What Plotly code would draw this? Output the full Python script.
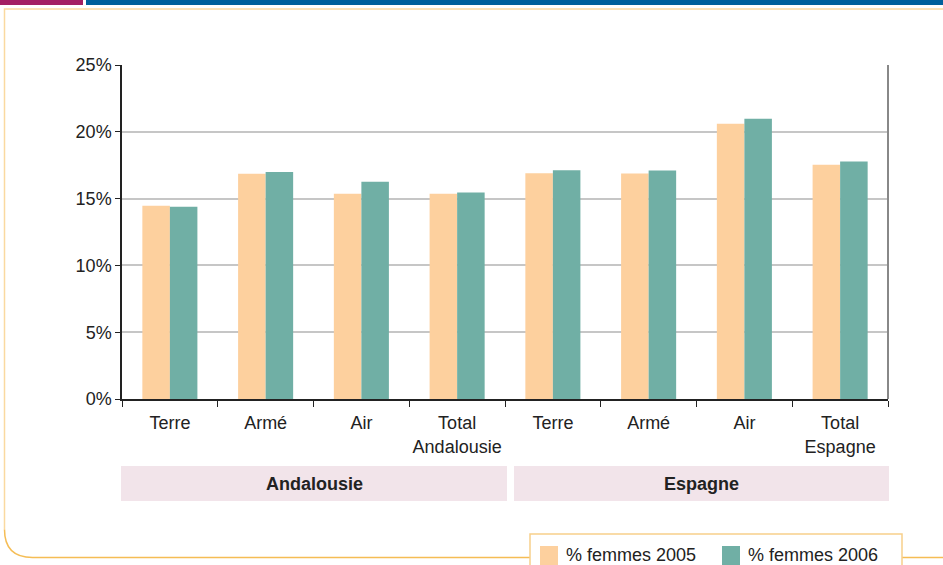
import plotly.graph_objects as go

# ---- data ----
cat_ids = ["A_Terre", "A_Arme", "A_Air", "A_Total", "E_Terre", "E_Arme", "E_Air", "E_Total"]
cat_labels = ["Terre", "Armé", "Air", "Total<br>Andalousie", "Terre", "Armé", "Air", "Total<br>Espagne"]
femmes_2005 = [14.47, 16.86, 15.37, 15.37, 16.90, 16.87, 20.60, 17.54]
femmes_2006 = [14.39, 17.00, 16.27, 15.45, 17.12, 17.10, 20.98, 17.77]
groups = ["Andalousie", "Espagne"]
y_ticks = [0, 5, 10, 15, 20, 25]
y_labels = ["0%", "5%", "10%", "15%", "20%", "25%"]
series_names = ["% femmes 2005", "% femmes 2006"]

C2005 = "#fdd09e"
C2006 = "#70afa5"

W, H = 943, 565
L, R, T, B = 122, 888, 65, 399


def px(x):
    return (x - L) / (R - L)


def py(y):
    return (B - y) / (B - T)


fig = go.Figure()
fig.add_trace(go.Bar(x=cat_ids, y=femmes_2005, name=series_names[0], marker_color=C2005,
                     marker_line_width=0, showlegend=False))
fig.add_trace(go.Bar(x=cat_ids, y=femmes_2006, name=series_names[1], marker_color=C2006,
                     marker_line_width=0, showlegend=False))

font = "Liberation Sans, Arial, sans-serif"
FS = 18

fig.update_layout(
    width=W, height=H,
    margin=dict(l=L, r=W - R, t=T, b=H - B, autoexpand=False),
    paper_bgcolor="white", plot_bgcolor="white",
    barmode="group", bargap=0.425, bargroupgap=0,
    font=dict(family=font, size=FS, color="#222222"),
    xaxis=dict(type="category", tickmode="array", tickvals=cat_ids, ticktext=cat_labels,
               tickson="boundaries", ticks="outside", ticklen=6, tickcolor="#222", tickangle=0,
               ticklabelstandoff=7,
               showline=True, linecolor="#222", linewidth=1.5, showgrid=False,
               tickfont=dict(size=FS, color="#222"), range=[-0.5, 7.5]),
    yaxis=dict(range=[0, 25], tickmode="array", tickvals=y_ticks, ticktext=y_labels,
               ticks="outside", ticklen=5,
               tickcolor="#222", showline=True, linecolor="#222", linewidth=1.5,
               showgrid=True, gridcolor="#c6c6c6", gridwidth=2, zeroline=False,
               tickfont=dict(size=FS, color="#222")),
)

shapes = []
# right axis line
shapes.append(dict(type="line", xref="paper", yref="paper", x0=1, x1=1, y0=0, y1=1,
                   line=dict(color="#888888", width=2)))
# top decoration bars
shapes.append(dict(type="rect", xref="paper", yref="paper", x0=px(0), x1=px(83), y0=py(0), y1=py(5),
                   fillcolor="#a31f63", line_width=0, layer="above"))
shapes.append(dict(type="rect", xref="paper", yref="paper", x0=px(86), x1=px(943), y0=py(0), y1=py(5),
                   fillcolor="#00609c", line_width=0, layer="above"))
# outer frame
fx, fy0, fyb, rad = 4.5, 9, 557.5, 28
path_top = (f"M {px(943)},{py(fy0)} L {px(fx)},{py(fy0)} L {px(fx)},{py(fyb - rad)}")
shapes.append(dict(type="path", xref="paper", yref="paper", path=path_top,
                   line=dict(color="#fad9a0", width=1.5)))
path_bot = (f"M {px(fx)},{py(fyb - rad)} Q {px(fx)},{py(fyb)} {px(fx + rad)},{py(fyb)} "
            f"L {px(530)},{py(fyb)}")
shapes.append(dict(type="path", xref="paper", yref="paper", path=path_bot,
                   line=dict(color="#f5bd55", width=1.5)))
shapes.append(dict(type="line", xref="paper", yref="paper", x0=px(902), x1=px(943), y0=py(fyb), y1=py(fyb),
                   line=dict(color="#f5bd55", width=1.5)))
# group bands
band_px = [(121, 507), (514, 889)]
annotations = []
for g, (a, b) in zip(groups, band_px):
    shapes.append(dict(type="rect", xref="paper", yref="paper", x0=px(a), x1=px(b), y0=py(466), y1=py(501),
                       fillcolor="#f2e4ea", line_width=0))
    annotations.append(dict(xref="paper", yref="paper", x=(px(a) + px(b)) / 2, y=py(484),
                            text=f"<b>{g}</b>", showarrow=False, xanchor="center", yanchor="middle",
                            font=dict(size=FS, color="#222")))
# legend box (manual)
shapes.append(dict(type="rect", xref="paper", yref="paper", x0=px(530), x1=px(902), y0=py(534), y1=py(575),
                   fillcolor="white", line=dict(color="#f8d08a", width=1.5)))
for name, col, sx in zip(series_names, [C2005, C2006], [540, 722]):
    shapes.append(dict(type="rect", xref="paper", yref="paper", x0=px(sx), x1=px(sx + 18),
                       y0=py(546), y1=py(565), fillcolor=col, line_width=0))
    annotations.append(dict(xref="paper", yref="paper", x=px(sx + 24), y=py(555), text=name,
                            showarrow=False, xanchor="left", yanchor="middle",
                            font=dict(size=FS, color="#222")))

fig.update_layout(shapes=shapes, annotations=annotations)
fig.write_html("out.html", config={"displayModeBar": False},
               post_script="document.body.style.margin='0';document.body.style.overflow='hidden';")
